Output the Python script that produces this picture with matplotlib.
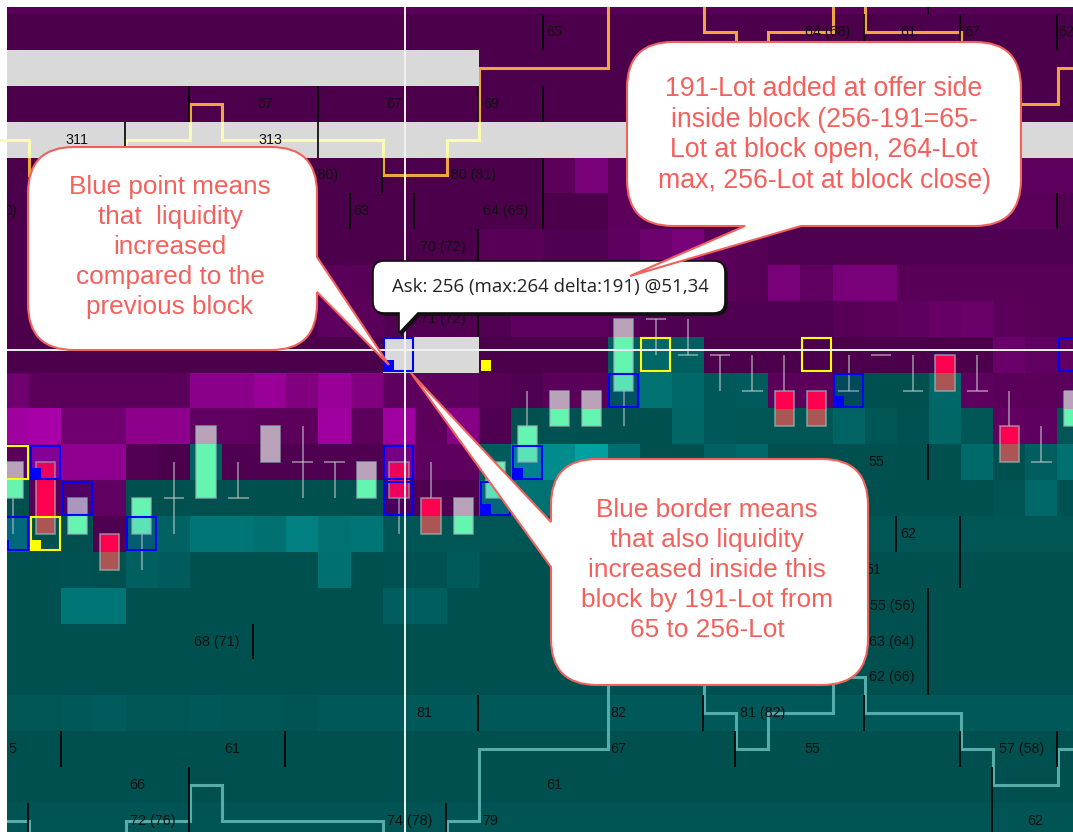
import numpy as np
import matplotlib
matplotlib.use("Agg")
import matplotlib.pyplot as plt
from matplotlib.path import Path
from matplotlib.patches import PathPatch, Rectangle

W, H = 1073, 832

# grid geometry in pixels
col_w = 32.13
row_h = 35.85
col_x0 = -2.73
row_y0 = -21.7

# first row of the bid side (teal) for each column
first_bid = [14, 15, 15, 16, 14, 14, 13, 14, 14, 14, 14, 14, 15, 15, 15, 13, 12,
             12, 12, 10, 10, 10, 11, 11, 12, 12, 11, 11, 11, 11, 12, 13, 13, 12]

# cell brightness, 0 = base colour of that side
depth = [
    [0x58] * 34,
    [0] * 34,
    [0] * 34,
    [0] * 34,
    [0] * 34,
    [0] * 17 + [0x5c, 0x78, 0x5c] + [0x5a] * 10 + [0x5e] * 4,
    [0] * 19 + [0x5c, 0x52] + [0x50] * 10 + [0x5a, 0x5a, 0x52],
    [0] * 15 + [0x58, 0x58, 0x50, 0x50, 0x5e, 0x6e, 0x78, 0x5a, 0x56] + [0x50] * 10,
    [0] * 10 + [0x5a, 0x58, 0x52, 0, 0, 0x5c, 0x5c, 0x5e, 0x60, 0x60, 0x60, 0x62, 0x5a, 0x55,
                0x78, 0x60, 0x78, 0x78] + [0x58] * 6,
    [0] * 10 + [0x5e, 0x5a, 0x52, 0x52, 0x52, 0x52, 0x5e, 0x5e, 0x5e, 0x58, 0x50, 0x50, 0x50, 0x50,
                0x50, 0x50, 0x58, 0x5a, 0x5e, 0x66, 0x6a, 0x5a, 0x58, 0x58],
    [0] * 19 + [0x5e, 0x68, 0x60] + [0] * 9 + [0x6a, 0x60, 0x60],
    [0x70, 0x5a, 0x5a, 0x5a, 0x5a, 0x5a, 0x8a, 0x8a, 0x98, 0x80, 0x98, 0x80, 0x5e, 0x5e, 0x5e, 0x55, 0x50,
     0x5a, 0x5a, 0x58, 0x72, 0x68, 0x58, 0x5c, 0x5a, 0x5a, 0x50, 0x50, 0x50, 0x68, 0x5e, 0x5a, 0x5a, 0x5a],
    [0xa0, 0xa8, 0x70, 0x70, 0x8c, 0x8c, 0x60, 0x60, 0x5c, 0x5c, 0xa0, 0x5c, 0xa0, 0x5c, 0x86, 0x50, 0x50,
     0x52, 0x50, 0x50, 0x50, 0x66, 0x58, 0x55, 0x55, 0x55, 0x64, 0x55, 0x52, 0x66, 0x55, 0x62, 0x5e, 0x55],
    [0x5a, 0x90, 0x90, 0x90, 0x52, 0x4a, 0x60, 0x50, 0x50, 0x50, 0x50, 0x50, 0x7e, 0x5e, 0x5e, 0x5c, 0x8a,
     0x8c, 0xa0, 0x6e, 0x50, 0x50, 0x62, 0x68, 0x50, 0x50, 0x50, 0x50, 0x50, 0x50, 0x6a, 0x50, 0x5e, 0x70],
    [0x50, 0x58, 0x58, 0x60] + [0x50] * 11 + [0x6e, 0x72, 0x70, 0x66, 0x55, 0x55, 0x58] + [0x50] * 9 + [0x54, 0x68, 0x52],
    [0x70, 0x50, 0x50, 0x50, 0x66, 0x62, 0x75, 0x75, 0x70, 0x80, 0x72, 0x75] + [0x55] * 22,
    [0x50, 0x50, 0x52, 0x50, 0x60, 0x5c, 0x50, 0x50, 0x50, 0x50, 0x70, 0x50, 0x52, 0x52, 0x5a] + [0x50] * 19,
    [0, 0, 0x75, 0x75] + [0] * 8 + [0x5e, 0x5e] + [0] * 20,
    [0] * 34,
    [0] * 34,
    [0x55, 0x55, 0x58, 0x5c, 0x55, 0x55, 0x58, 0x55, 0x55, 0x54] + [0x58] * 24,
    [0] * 34,
    [0] * 34,
    [0x54] * 34,
]

# grey walls: row, first column, end column
wall_rows = [2, 4, 10]
wall_starts = [0, 0, 12]
wall_ends = [15, 34, 15]

# candles per column, in rows (a smaller row is a higher price)
candle_open = [14, 13, 15, 15, 15, 14, 14, 14, 13, 13, 13, 14, 13, 14, 15, 14, 13,
               12, 12, 11, 9, 10, 10, 11, 11, 11, 11, 10, 11, 10, 11, 12, 13, 12]
candle_close = [13, 15, 14, 16, 14, 14, 12, 14, 12, 13, 13, 13, 14, 15, 14, 13, 12,
                11, 11, 9, 9, 10, 10, 11, 12, 12, 11, 10, 11, 11, 11, 13, 13, 11]
candle_high = [13, 13, 14, 15, 14, 13, 12, 13, 12, 12, 13, 13, 13, 13, 14, 13, 11,
               11, 11, 9, 9, 9, 10, 10, 10, 11, 10, 10, 10, 10, 10, 11, 12, 11]
candle_low = [15, 15, 15, 16, 16, 15, 14, 14, 13, 14, 14, 14, 15, 15, 15, 14, 13,
              12, 12, 12, 10, 10, 11, 11, 12, 12, 11, 10, 11, 11, 11, 13, 13, 12]

# order book lines, row per column
ask_line = [4, 5, 5, 5, 4, 4, 3, 4, 4, 4, 4, 4, 5, 5, 4, 2, 2, 2, 2, 0, 0, 0, 1, 2, 1, 1, 0, 1, 1, 1, 3, 3, 3, 2]
bid_line = [23, 24, 24, 24, 23, 23, 22, 23, 23, 23, 23, 23, 24, 24, 23, 21, 21, 21, 21, 19, 19, 19, 20, 21, 20, 20, 19,
            20, 20, 20, 21, 22, 22, 21]

# boxes: column, row, has corner point
blue_cols = [1, 2, 0, 4, 12, 12, 12, 15, 16, 19, 26, 33]
blue_rows = [13, 14, 15, 15, 10, 13, 14, 14, 13, 11, 11, 10]
blue_points = [1, 0, 1, 0, 1, 0, 0, 1, 1, 0, 1, 0]
yellow_cols = [0, 1, 20, 25]
yellow_rows = [13, 15, 10, 10]
yellow_points = [0, 1, 0, 0]
lone_yellow_point = (15, 10)

# small black marks at column edges
tick_cols = [17, 6, 10, 15, 17, 4, 10, 17, 12, 11, 13, 17, 15, 33, 29, 15, 8, 15, 2, 9, 6, 1, 6, 14,
             28, 30, 30, 29, 29, 29, 22, 27, 23, 30, 33, 31, 31, 29, 30, 33, 27]
tick_rows = [1, 3, 3, 3, 3, 4, 4, 5, 5, 6, 6, 6, 7, 6, 13, 9, 18, 20, 21, 21, 22, 23, 23, 23,
             15, 15, 16, 17, 18, 19, 20, 20, 21, 21, 21, 22, 23, 0, 1, 1, 1]

# size labels: text, anchor column, row, alignment
label_text = ["65", "67", "67", "69", "311", "313", "80 (80)", "80 (81)", "0)", "63", "64 (65)", "70 (72)",
              "71 (72)", "63", "68 (71)", "81", "82", "5", "61", "67", "66", "61", "72 (76)", "74 (78)", "79",
              "62", "51", "55 (56)", "63 (64)", "62 (66)", "81 (82)", "55", "57 (58)", "62", "55",
              "64 (68)", "61", "67", "62"]
label_cols = [17.33, 8.33, 12.35, 15.37, 2.48, 8.49, 10.6, 14.84, 0.61, 11.32, 15.83, 13.87,
              13.87, 31.6, 6.84, 13.3, 19.32, 0.58, 7.32, 19.32, 4.35, 17.33, 4.85, 12.83, 15.34,
              28.35, 27.26, 28.56, 28.56, 27.85, 23.83, 25.36, 31.87, 32.32, 27.35,
              25.85, 28.35, 30.34, 33.26]
label_rows = [1, 3, 3, 3, 4, 4, 5, 5, 6, 6, 6, 7, 9, 6, 18, 20, 20, 21, 21, 21, 22, 22, 23, 23, 23,
              15, 16, 17, 18, 19, 20, 21, 21, 23, 13, 1, 1, 1, 1]
label_align = ["center"] * 6 + ["right", "center", "right", "center", "center", "center",
                                "center", "right"] + ["center"] * 3 + ["right"] + ["center"] * 9 \
    + ["right", "right"] + ["center"] * 10

cross_col = 12.69
cross_row = 10.38

tooltip_text = "Ask: 256 (max:264 delta:191) @51,34"
note_left = "Blue point means\nthat  liquidity\nincreased\ncompared to the\nprevious block"
note_right = "191-Lot added at offer side\ninside block (256-191=65-\nLot at block open, 264-Lot\nmax, 256-Lot at block close)"
note_low = "Blue border means\nthat also liquidity\nincreased inside this\nblock by 191-Lot from\n65 to 256-Lot"

note_color = "#f4605c"
purple_base = 0x4c
teal_base = 0x50


def bubble(x0, y0, x1, y1, r, side=None, a=0, b=0, tip=(0, 0)):
    # rounded box with an optional tail, clockwise from top left
    v = [(x0 + r, y0)]
    c = [Path.MOVETO]
    v += [(x1 - r, y0), (x1, y0), (x1, y0 + r)]
    c += [Path.LINETO, Path.CURVE3, Path.CURVE3]
    if side == "right":
        v += [(x1, a), tip, (x1, b)]
        c += [Path.LINETO] * 3
    v += [(x1, y1 - r), (x1, y1), (x1 - r, y1)]
    c += [Path.LINETO, Path.CURVE3, Path.CURVE3]
    if side == "bottom":
        v += [(b, y1), tip, (a, y1)]
        c += [Path.LINETO] * 3
    v += [(x0 + r, y1), (x0, y1), (x0, y1 - r)]
    c += [Path.LINETO, Path.CURVE3, Path.CURVE3]
    if side == "left":
        v += [(x0, b), tip, (x0, a)]
        c += [Path.LINETO] * 3
    v += [(x0, y0 + r), (x0, y0), (x0 + r, y0)]
    c += [Path.LINETO, Path.CURVE3, Path.CURVE3]
    return Path(v, c)


plt.rcParams["font.family"] = ["Liberation Sans", "DejaVu Sans"]

fig = plt.figure(figsize=(W / 100, H / 100), dpi=100, facecolor="white")
ax = fig.add_axes([7 / W, 0, (W - 7) / W, (H - 7) / H])
ax.set_xlim((7 - col_x0) / col_w, (W - col_x0) / col_w)
ax.set_ylim((H - row_y0) / row_h, (7 - row_y0) / row_h)
ax.axis("off")

# heat map
n_rows = len(depth)
n_cols = len(first_bid)
img = np.zeros((n_rows, n_cols, 3))
for r in range(n_rows):
    for c in range(n_cols):
        if r < first_bid[c]:
            v = depth[r][c] or purple_base
            img[r, c] = (v / 255, 0, v / 255)
        else:
            v = depth[r][c] or teal_base
            img[r, c] = (0, v / 255, v / 255)
ax.imshow(img, extent=(0, n_cols, n_rows, 0), interpolation="nearest", aspect="auto", zorder=1)

# step lines, orange under the walls
xs = np.arange(n_cols + 1)
ask_y = np.array(ask_line + [ask_line[-1]]) + 0.5
bid_y = np.array(bid_line + [bid_line[-1]]) + 0.5
ax.step(xs, ask_y, where="post", color="#eea63e", lw=2.2, zorder=2, solid_joinstyle="miter")
ax.step(xs, bid_y, where="post", color="#55aca8", lw=2.2, zorder=2, solid_joinstyle="miter")

clip_rects = []
for r, s, e in zip(wall_rows, wall_starts, wall_ends):
    rect = Rectangle((s, r), e - s, 1, color="#d9d9d9", lw=0, zorder=3)
    ax.add_patch(rect)
    clip_rects.append(rect)
pale, = ax.step(xs, ask_y, where="post", color="#fbfbb4", lw=2.2, zorder=4, solid_joinstyle="miter")
pale.set_clip_path(clip_rects[1])

# black marks and labels
for c, r in zip(tick_cols, tick_rows):
    ax.vlines(c - 0.03, r, r + 1, color="black", lw=1.2, zorder=5)
for t, c, r, al in zip(label_text, label_cols, label_rows, label_align):
    ax.text(c, r + 0.5, t, ha=al, va="center", fontsize=10.3, color="#111111", zorder=5, clip_on=True)

# candles, the colour changes where the column crosses to the bid side
for c in range(n_cols):
    x = c + 0.5
    op, cl, hi, lo = candle_open[c], candle_close[c], candle_high[c], candle_low[c]
    ax.vlines(x, hi + 0.5, lo + 0.5, color=(0.78, 0.8, 0.8, 0.55), lw=1.4, zorder=6)
    if op == cl:
        ax.hlines(op + 0.5, x - 0.32, x + 0.32, color=(0.78, 0.8, 0.8, 0.55), lw=1.4, zorder=6)
        continue
    top = min(op, cl) + 0.5
    bot = max(op, cl) + 0.5
    up = op > cl
    split = first_bid[c]
    ask_col = "#baa2ba" if up else "#ff0050"
    bid_col = "#64f5b0" if up else "#ab5555"
    if top < split:
        ax.bar(x, min(bot, split) - top, bottom=top, width=0.6, color=ask_col, lw=0, zorder=6)
    if bot > split:
        ax.bar(x, bot - max(top, split), bottom=max(top, split), width=0.6, color=bid_col, lw=0, zorder=6)
    ax.bar(x, bot - top, bottom=top, width=0.6, fill=False, edgecolor=(0.6, 0.72, 0.72, 0.7), lw=1.2, zorder=6)

# liquidity boxes, the blue ones tint what is inside
for c, r in zip(blue_cols, blue_rows):
    if r != 10:
        ax.add_patch(Rectangle((c + 0.05, r + 0.04), 0.9, 0.92, facecolor=(0, 0, 1, 0.07), lw=0, zorder=7))
for cols, rows, pts, col in [(blue_cols, blue_rows, blue_points, "#0000ff"),
                             (yellow_cols, yellow_rows, yellow_points, "#ffff00")]:
    for c, r, p in zip(cols, rows, pts):
        ax.add_patch(Rectangle((c + 0.05, r + 0.04), 0.9, 0.92, fill=False, edgecolor=col, lw=1.5, zorder=7))
        if p:
            ax.add_patch(Rectangle((c + 0.05, r + 0.66), 0.31, 0.3, color=col, lw=0, zorder=7))
ax.add_patch(Rectangle((lone_yellow_point[0] + 0.05, lone_yellow_point[1] + 0.66), 0.31, 0.3,
                       color="#ffff00", lw=0, zorder=7))

# crosshair
ax.axvline(cross_col, color="#f2f2f2", lw=1.4, zorder=8)
ax.axhline(cross_row, color="#f2f2f2", lw=1.4, zorder=8)

# tooltip and notes live on a pixel overlay
ov = fig.add_axes([0, 0, 1, 1])
ov.set_xlim(0, W)
ov.set_ylim(H, 0)
ov.axis("off")
ov.patch.set_alpha(0)

tip_path = bubble(373, 261, 725, 313, 11, "bottom", 399, 418, (399, 333))
shadow = bubble(375, 263, 727, 315, 11, "bottom", 401, 420, (401, 335))
ov.add_patch(PathPatch(shadow, facecolor="#111111", edgecolor="#111111", lw=1, zorder=1))
ov.add_patch(PathPatch(tip_path, facecolor="white", edgecolor="#111111", lw=1.2, zorder=2))
ov.text(392, 287, tooltip_text, ha="left", va="center", fontsize=13.45, color="#222222",
        family=["Open Sans", "DejaVu Sans"], zorder=3)

notes = [
    (bubble(28, 147, 317, 350, 46, "right", 257, 292, (389, 365)), note_left, 170, 247, 18.8, 1.31),
    (bubble(627, 42, 1021, 226, 46, "bottom", 745, 801, (630, 276)), note_right, 824, 135, 19.2, 1.234),
    (bubble(551, 459, 868, 685, 46, "left", 522, 567, (411, 373)), note_low, 707, 570, 18.9, 1.32),
]
for path, txt, tx, ty, fs, ls in notes:
    ov.add_patch(PathPatch(path, facecolor="white", edgecolor="#f0625c", lw=1.5, zorder=4))
    ov.text(tx, ty, txt, ha="center", va="center", fontsize=fs, color=note_color, linespacing=ls, zorder=5)

fig.savefig("out.png", dpi=100)
